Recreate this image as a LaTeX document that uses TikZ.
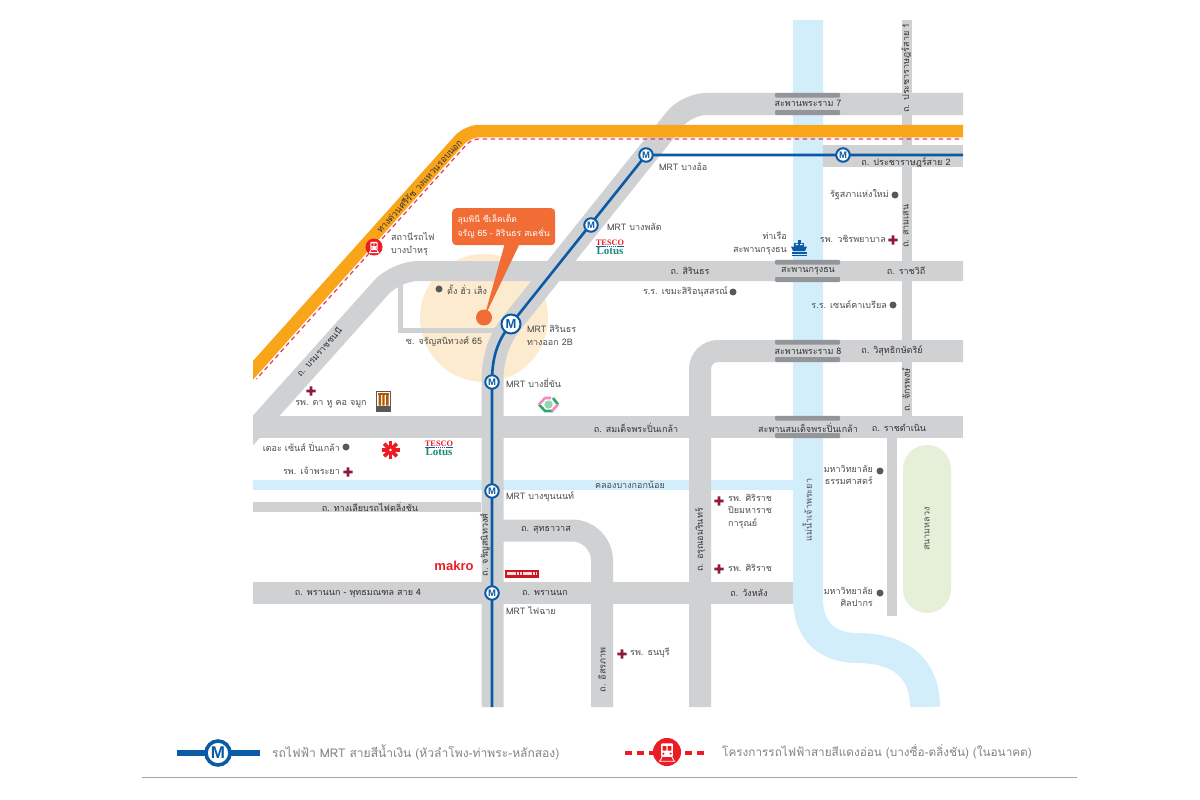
\documentclass[tikz,border=0pt]{standalone}
\usepackage{fontspec}
\setmainfont[Script=Thai]{Loma}
\newfontfamily\logoserif{Liberation Serif}
\newfontfamily\logosans{Liberation Sans}
\usepackage{tikz}
\definecolor{roadgrey}{HTML}{CFD1D3}
\definecolor{bridgegrey}{HTML}{939598}
\definecolor{riverblue}{HTML}{D2EEFB}
\definecolor{parkgreen}{HTML}{E6F0D8}
\definecolor{expressway}{HTML}{F9A51A}
\definecolor{redline}{HTML}{EF4056}
\definecolor{stationred}{HTML}{ED1C24}
\definecolor{mrtblue}{HTML}{0B5AA5}
\definecolor{siteorange}{HTML}{F26C36}
\definecolor{sitecream}{HTML}{FDEBD0}
\definecolor{crossred}{HTML}{8E1B3A}
\definecolor{dotgrey}{HTML}{58595B}
\definecolor{labelgrey}{HTML}{4D4D4F}
\definecolor{roadtext}{HTML}{333335}
\definecolor{legendtext}{HTML}{808285}
\definecolor{lotusgreen}{HTML}{1A8A78}
\definecolor{marketpink}{HTML}{F08CC0}
\definecolor{marketgreen}{HTML}{2FA866}

\tikzset{
    hospcross/.pic={\fill[crossred] (-4.6,-1.3) rectangle (4.6,1.3) (-1.3,-4.6) rectangle (1.3,4.6);},
    trainicon/.pic={
        \fill[stationred] (0,0) circle (8.5);
        \fill[white, rounded corners=1] (-3.6,-5.2) rectangle (3.6,3);
        \fill[stationred] (-2.6,-3.6) rectangle (-0.4,-0.8) (0.4,-3.6) rectangle (2.6,-0.8);
        \fill[stationred] (-2.2,1) circle (0.7) (2.2,1) circle (0.7);
        \draw[white, line width=0.8] (-5,5.6) -- (5,5.6) (-3,3) -- (-4.4,5.6) (3,3) -- (4.4,5.6);
    },
    boaticon/.pic={
        \fill[mrtblue] (-1.5,-8) rectangle (1.5,-5.5);
        \fill[mrtblue] (-5,-5.5) rectangle (5,-1.5);
        \fill[mrtblue] (-8,-1.5) -- (8,-1.5) -- (6,3) -- (-6,3) -- cycle;
        \fill[white] (-3.5,-4.2) rectangle (-1,-2.8) (1,-4.2) rectangle (3.5,-2.8);
        \draw[mrtblue, line width=1.2] (-7.5,5) -- (7.5,5) (-7.5,7.3) -- (7.5,7.3);
    },
    lotuslogo/.pic={
        \node[inner sep=0, text=stationred, font=\logoserif\bfseries\fontsize{8.3}{8.3}\selectfont] at (0,-3.8) {TESCO};
        \draw[mrtblue, line width=0.6, dash pattern=on 1.5 off 0.6] (-14,-0.3) -- (14,-0.3);
        \node[inner sep=0, text=lotusgreen, font=\logoserif\bfseries\fontsize{11}{11}\selectfont] at (0,4.2) {Lotus};
    },
}

\begin{document}
\begin{tikzpicture}[
    x=1pt, y=-1pt,
    every node/.style={inner sep=0, text=labelgrey, font=\fontsize{9}{12.5}\selectfont},
    road/.style={draw=roadgrey, line width=22, line cap=butt},
    thinroad/.style={draw=roadgrey, line width=10, line cap=butt},
    bridgebar/.style={fill=bridgegrey, rounded corners=1},
    rdlbl/.style={text=roadtext},
    lblr/.style={anchor=west, align=left},
    lbll/.style={anchor=east, align=right},
    mrtline/.style={draw=mrtblue, line width=2.6},
    stn/.style={circle, draw=mrtblue, line width=2, fill=white, minimum size=13.5,
        text=mrtblue, font=\logosans\bfseries\fontsize{9.5}{9.5}\selectfont},
    placedot/.style={circle, fill=dotgrey, minimum size=7},
    reddash/.style={draw=redline, line width=1.3, dash pattern=on 4.5 off 3.5}
    ]
\useasboundingbox (0,0) rectangle (1200,800);

%stations used by the blue line
\coordinate (cEast) at (963,155);
\coordinate (cBangPho) at (843,155);
\coordinate (cBangO) at (646,155);
\coordinate (cBangPhlat) at (591,225);
\coordinate (cSirindhorn) at (511,324);
\coordinate (cBangYiKhan) at (492,382);
\coordinate (cBangKhunNon) at (492,491);
\coordinate (cFaiChai) at (492,593);
\coordinate (cSouth) at (492,707);

\begin{scope}
\clip (253,0) rectangle (963,707);
%river and park
\draw[riverblue, line width=30] (808,20) -- (808,598) .. controls (808,632) and (828,648) .. (857,648)
    .. controls (900,648) and (925,668) .. (925,707);
\fill[riverblue] (253,480) rectangle (795,490);
\fill[parkgreen, rounded corners=23.9] (903,445) rectangle (951,613);
\fill[sitecream] (484,318) circle (64);

%roads
\draw[road, rounded corners=19] (963,104) -- (687,104) -- (cSirindhorn);
\draw[road] (cSirindhorn) .. controls (499,339) and (492.5,358) .. (492.5,382) -- (492.5,707);
\draw[road, line width=20, rounded corners=22] (963,271) -- (396,271) -- (240,445);
\draw[road, rounded corners=18] (963,351) -- (700,351) -- (700,707);
\draw[road] (253,427) -- (963,427);
\draw[road] (253,593) -- (793,593);
\draw[road, rounded corners=30] (492,530.5) -- (602,530.5) -- (602,707);
\draw[road] (823,155.5) -- (963,155.5);
\draw[thinroad] (253,507) -- (481,507);
\draw[thinroad] (907,20) -- (907,416);
\draw[thinroad] (892,437) -- (892,616);
\draw[draw=roadgrey, line width=5] (400.5,282) -- (400.5,330) -- (495,330);

%bridges
\foreach \by in {104,271,351,427}{
    \fill[bridgebar] (775,\by-11.2) rectangle (840,\by-6.5);
    \fill[bridgebar] (775,\by+6) rectangle (840,\by+11);
}

%expressway and future line
\draw[expressway, line width=12.5, rounded corners=12] (963,131) -- (467.5,131) -- (238.5,386.5);
\draw[reddash, rounded corners=7] (967,139) -- (471.5,139) -- (256.5,379);

%blue line
\draw[mrtline, rounded corners=1] (cEast) -- (cBangO) -- (cSirindhorn);
\draw[mrtline] (cSirindhorn) .. controls (497,341) and (492,358) .. (cBangYiKhan) -- (cSouth);
\end{scope}

%stations
\node[stn] (stnBangPho) at (cBangPho) {M};
\node[stn] (stnBangO) at (cBangO) {M};
\node[stn] (stnBangPhlat) at (cBangPhlat) {M};
\node[stn, minimum size=19, font=\logosans\bfseries\fontsize{13}{13}\selectfont] (stnSirindhorn) at (cSirindhorn) {M};
\node[stn] (stnBangYiKhan) at (cBangYiKhan) {M};
\node[stn] (stnBangKhunNon) at (cBangKhunNon) {M};
\node[stn] (stnFaiChai) at (cFaiChai) {M};
\pic at (374,247) {trainicon};

%site callout
\fill[siteorange] (505,243) -- (520,243) -- (484,318) -- cycle;
\fill[siteorange] (484,317.5) circle (8);
\node[fill=siteorange, rounded corners=4, text=white, anchor=north west, align=left,
    minimum width=103, minimum height=37, inner xsep=5, font=\fontsize{8.6}{14}\selectfont]
    (siteBox) at (452,208) {ลุมพินี ซีเล็คเต็ด\\จรัญ 65 - สิรินธร สเตชั่น};

%road names
\node[rdlbl] (lRama7) at (808,103) {สะพานพระราม 7};
\node[rdlbl] (lPracharat2) at (906,162) {ถ. ประชาราษฎร์สาย 2};
\node[rdlbl] (lSirindhorn) at (690,271) {ถ. สิรินธร};
\node[rdlbl] (lKrungThon) at (808,271) {สะพานกรุงธน};
\node[rdlbl] (lRatchawithi) at (906,271) {ถ. ราชวิถี};
\node[rdlbl] (lRama8) at (808,351) {สะพานพระราม 8};
\node[rdlbl] (lWisut) at (892,351) {ถ. วิสุทธิกษัตริย์};
\node[rdlbl] (lSomdet) at (636,428) {ถ. สมเด็จพระปิ่นเกล้า};
\node[rdlbl] (lSomdetBr) at (808,428) {สะพานสมเด็จพระปิ่นเกล้า};
\node[rdlbl] (lRatchadamnoen) at (899,428) {ถ. ราชดำเนิน};
\node[rdlbl] (lLiap) at (370,507) {ถ. ทางเลียบรถไฟตลิ่งชัน};
\node[rdlbl] (lSuthawat) at (546,530) {ถ. สุทธาวาส};
\node[rdlbl] (lPhranNok4) at (358,593) {ถ. พรานนก - พุทธมณฑล สาย 4};
\node[rdlbl] (lPhranNok) at (545,593) {ถ. พรานนก};
\node[rdlbl] (lWangLang) at (749,593) {ถ. วังหลัง};
\node[rotate=90, rdlbl] (lPracharat1) at (906,68) {ถ. ประชาราษฎร์สาย 1};
\node[rotate=90, rdlbl] (lSamsen) at (906,226) {ถ. สามเสน};
\node[rotate=90, rdlbl] (lChakraphong) at (906,390) {ถ. จักรพงษ์};
\node[rotate=90, rdlbl] (lArun) at (700,540) {ถ. อรุณอมรินทร์};
\node[rotate=90, rdlbl] (lIsaraphap) at (602,670) {ถ. อิสรภาพ};
\node[rotate=90, rdlbl] (lCharan) at (485,545) {ถ. จรัญสนิทวงศ์};
\node[rotate=48, rdlbl] (lBorom) at (319,352) {ถ. บรมราชชนนี};
\node[rotate=48, rdlbl] (lExpress) at (419,186) {ทางด่วนศรีรัช วงแหวนรอบนอก};
\node[rotate=90] (lRiver) at (807,510) {แม่น้ำเจ้าพระยา};
\node[rotate=90] (lLuang) at (927,529) {สนามหลวง};
\node (lKhlong) at (630,485) {คลองบางกอกน้อย};
\node (lSoi) at (444,342) {ซ. จรัญสนิทวงศ์ 65};

%station names
\node[lblr] (lBangO) at (659,167) {MRT บางอ้อ};
\node[lblr] (lBangPhlat) at (607,227) {MRT บางพลัด};
\node[lblr, text depth=0] (lSirinSt) at (527,335.5) {MRT สิรินธร\\ทางออก 2B};
\node[lblr] (lBangYi) at (506,383) {MRT บางยี่ขัน};
\node[lblr] (lBangKhun) at (506,497) {MRT บางขุนนนท์};
\node[lblr] (lFaiChai) at (506,610) {MRT ไฟฉาย};
\node[lblr] (lBamru) at (391,244) {สถานีรถไฟ\\บางบำหรุ};

%places with a dot
\node[placedot] (dParl) at (895,195) {};
\node[lbll] (lParl) at (889,195) {รัฐสภาแห่งใหม่};
\node[placedot] (dTang) at (439,289) {};
\node[lblr] (lTang) at (447,290) {ตั้ง ฮั่ว เส็ง};
\node[placedot] (dKhema) at (733,292) {};
\node[lbll] (lKhema) at (728,292) {ร.ร. เขมะสิริอนุสสรณ์};
\node[placedot] (dGabriel) at (893,305) {};
\node[lbll] (lGabriel) at (887,305) {ร.ร. เซนต์คาเบรียล};
\node[placedot] (dScene) at (346,447) {};
\node[lbll] (lScene) at (340,447) {เดอะ เซ้นส์ ปิ่นเกล้า};
\node[placedot] (dThammasat) at (880,471) {};
\node[lbll, anchor=north east] (lThammasat) at (873,465) {มหาวิทยาลัย\\ธรรมศาสตร์};
\node[placedot] (dSilpakorn) at (880,593) {};
\node[lbll, anchor=north east] (lSilpakorn) at (873,587) {มหาวิทยาลัย\\ศิลปากร};

%hospitals
\pic at (893,240) {hospcross};
\node[lbll] (lWachira) at (886,239) {รพ. วชิรพยาบาล};
\pic at (311,391) {hospcross};
\node (lENT) at (331,404) {รพ. ตา หู คอ จมูก};
\pic at (348,472) {hospcross};
\node[lbll] (lChaoPhraya) at (340,471) {รพ. เจ้าพระยา};
\pic at (719,501) {hospcross};
\node[lblr, anchor=north west] (lPiyamaharat) at (728,494) {รพ. ศิริราช\\ปิยมหาราช\\การุณย์};
\pic at (719,569) {hospcross};
\node[lblr] (lSiriraj) at (728,568) {รพ. ศิริราช};
\pic at (622,654) {hospcross};
\node[lblr] (lThonburi) at (630,653) {รพ. ธนบุรี};

%pier
\node[lbll, text depth=0, anchor=north east] (lPier) at (787,232) {ท่าเรือ\\สะพานกรุงธน};
\pic at (799,248) {boaticon};

%shop logos
\pic at (610,247) {lotuslogo};
\pic at (439,448) {lotuslogo};
\node[text=stationred, font=\logosans\bfseries\fontsize{13}{13}\selectfont] (lMakro) at (454,566) {makro};
\fill[stationred!85!black] (505,570) rectangle (539,578);
\draw[white!85!stationred, line width=3.6, dash pattern=on 2.5 off 0.7] (507,573.5) -- (537,573.5);
%mall logo
\fill[black!65] (376,391) rectangle (391,412);
\fill[white] (377,392) rectangle (390,406);
\fill[black!65] (377,406) rectangle (390,411);
\fill[orange!70!black] (378.5,395) rectangle (381,405.5) (382.3,395) rectangle (384.7,405.5) (386,395) rectangle (388.5,405.5);
\fill[orange!70!black] (378,393) rectangle (389,395);
%red store logo
\foreach \rayangle in {0,45,90,135}{
    \draw[stationred, line width=3.6, rotate around={\rayangle:(390.5,450)}] (381.5,450) -- (399.5,450);
}
\fill[white] (390.5,450) circle (1.4);
%market logo
\draw[marketgreen, line width=2.6] (539,404.5) -- (545,411) -- (553,411) (558,404.5) -- (553,398);
\draw[marketpink, line width=2.6] (539,404.5) -- (545,398) -- (551,398) (558,404.5) -- (552,411);
\fill[marketgreen!50!white] (548.5,404.5) circle (4.2);

%legend
\coordinate (legMrtW) at (177,753);
\coordinate (legMrtE) at (260,753);
\coordinate (legRedW) at (625,753);
\coordinate (legRedE) at (708,753);
\draw[mrtblue, line width=6] (legMrtW) -- (legMrtE);
\node[stn, line width=3.6, minimum size=24, font=\logosans\bfseries\fontsize{17}{17}\selectfont] (legMrt) at (218,753) {M};
\node[lblr, text=legendtext, font=\fontsize{12.05}{13}\selectfont] (legMrtTxt) at (272,752) {รถไฟฟ้า MRT สายสีน้ำเงิน (หัวลำโพง-ท่าพระ-หลักสอง)};
\draw[stationred, line width=3.6, dash pattern=on 7 off 5] (legRedW) -- (legRedE);
\pic[scale=1.65] at (667,752) {trainicon};
\node[lblr, text=legendtext, font=\fontsize{11.75}{13}\selectfont] (legRedTxt) at (722,752) {โครงการรถไฟฟ้าสายสีแดงอ่อน (บางซื่อ-ตลิ่งชัน) (ในอนาคต)};
\coordinate (ruleW) at (142,777.5);
\coordinate (ruleE) at (1077,777.5);
\draw[black!35, line width=1] (ruleW) -- (ruleE);
\end{tikzpicture}
\end{document}
